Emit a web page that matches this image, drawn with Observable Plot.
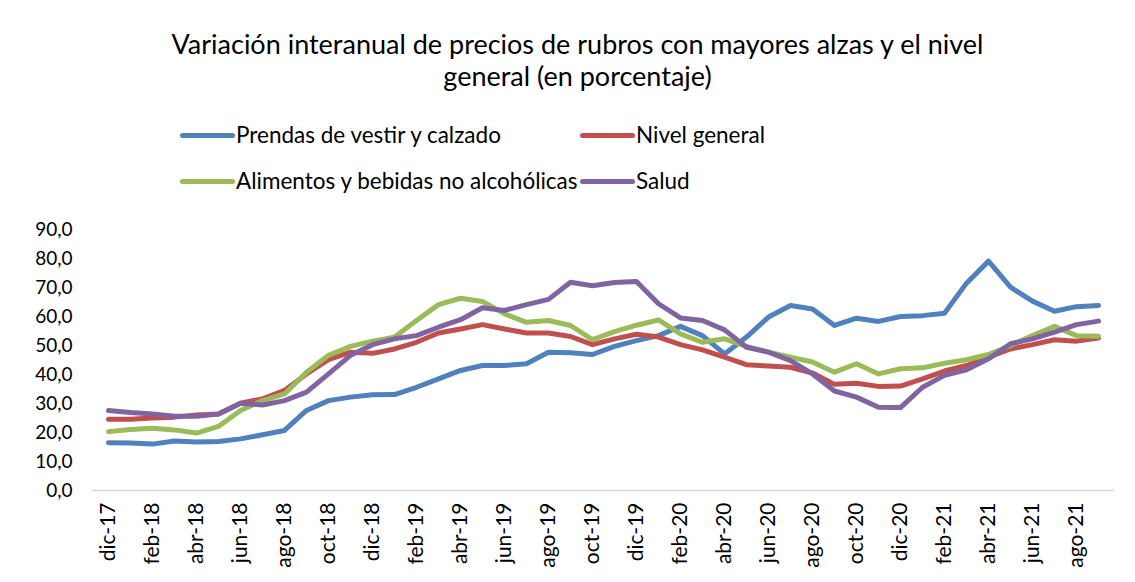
<!DOCTYPE html>
<html>
<head>
<meta charset="utf-8">
<script src="https://cdn.jsdelivr.net/npm/d3@7"></script>
<script src="https://cdn.jsdelivr.net/npm/@observablehq/plot@0.6"></script>
<style>
  html, body { margin: 0; padding: 0; background: #fff; }
  body { width: 1135px; height: 582px; position: relative; overflow: hidden; font-family: Lato, "Liberation Sans", sans-serif; color: #000; }
  #title { position: absolute; top: 28px; left: 10px; width: 1135px; text-align: center; font-size: 27px; line-height: 32px; }
  .leg { position: absolute; font-size: 22.5px; line-height: 26px; display: flex; align-items: center; white-space: nowrap; }
  .sw { display: inline-block; width: 55px; height: 5px; border-radius: 3px; margin-right: 1px; }
  #chart { position: absolute; top: 210px; left: 0; }
</style>
</head>
<body>
<div id="title">Variación interanual de precios de rubros con mayores alzas y el nivel<br>general (en porcentaje)</div>
<div id="legend"></div>
<div id="chart"></div>
<script>
const months = [
  "dic-17",
  "ene-18","feb-18","mar-18","abr-18","may-18","jun-18","jul-18","ago-18","sep-18","oct-18","nov-18","dic-18",
  "ene-19","feb-19","mar-19","abr-19","may-19","jun-19","jul-19","ago-19","sep-19","oct-19","nov-19","dic-19",
  "ene-20","feb-20","mar-20","abr-20","may-20","jun-20","jul-20","ago-20","sep-20","oct-20","nov-20","dic-20",
  "ene-21","feb-21","mar-21","abr-21","may-21","jun-21","jul-21","ago-21","sep-21"
];
const prendas = [16.5, 16.4, 16.0, 17.1, 16.7, 16.9, 17.8, 19.2, 20.7, 27.6, 31.0, 32.2, 33.0,
  33.1, 35.6, 38.5, 41.4, 43.1, 43.1, 43.7, 47.7, 47.5, 46.9, 49.7, 51.7,
  53.4, 56.6, 53.4, 47.1, 52.9, 59.8, 63.8, 62.6, 56.9, 59.4, 58.3, 60.0,
  60.3, 61.1, 71.5, 79.1, 70.1, 65.3, 61.8, 63.4, 63.8];
const nivel = [24.6, 24.6, 25.0, 25.3, 26.0, 26.4, 30.1, 31.6, 34.5, 40.2, 45.1, 47.7, 47.3,
  48.8, 51.1, 54.3, 55.7, 57.2, 55.7, 54.3, 54.3, 53.1, 50.3, 52.3, 53.9,
  52.9, 50.3, 48.5, 46.0, 43.4, 42.9, 42.5, 40.5, 36.6, 37.0, 35.9, 36.0,
  38.5, 41.2, 43.1, 46.0, 48.8, 50.3, 52.0, 51.5, 52.6];
const alimentos = [20.3, 21.0, 21.5, 20.9, 19.8, 22.1, 27.6, 31.0, 33.3, 40.8, 46.6, 49.7, 51.5,
  52.9, 58.6, 64.1, 66.3, 65.2, 60.9, 58.0, 58.6, 56.9, 52.0, 54.8, 57.0,
  58.8, 54.0, 51.1, 52.3, 49.7, 47.7, 46.0, 44.3, 40.8, 43.7, 40.2, 42.0,
  42.3, 43.9, 45.1, 46.9, 50.0, 53.4, 56.6, 53.4, 53.2];
const salud = [27.6, 26.9, 26.4, 25.6, 25.6, 26.4, 30.1, 29.5, 31.0, 33.9, 40.2, 46.6, 50.3,
  52.3, 53.4, 56.3, 58.9, 63.0, 62.1, 64.1, 65.9, 71.8, 70.6, 71.7, 72.1,
  64.4, 59.5, 58.6, 55.4, 49.4, 47.7, 44.8, 40.2, 34.3, 32.2, 28.7, 28.6,
  35.6, 39.7, 41.6, 45.4, 50.6, 52.3, 54.6, 57.2, 58.4];
const seriesNames = ["Prendas de vestir y calzado", "Nivel general", "Alimentos y bebidas no alcohólicas", "Salud"];
const seriesColors = ["#4f81bd", "#c0504d", "#9bbb59", "#8064a2"];
const yTicks = [0, 10, 20, 30, 40, 50, 60, 70, 80, 90];
const xTickLabels = months.filter((m, i) => i % 2 === 0);

const allSeries = [prendas, nivel, alimentos, salud];
const data = [];
allSeries.forEach((vals, s) => vals.forEach((v, i) => data.push({serie: seriesNames[s], mes: months[i], valor: v})));

// legend
const legendPos = [[180, 122], [580, 122], [180, 168], [580, 168]];
const legend = document.getElementById("legend");
seriesNames.forEach((n, i) => {
  const d = document.createElement("div");
  d.className = "leg";
  d.style.left = legendPos[i][0] + "px";
  d.style.top = legendPos[i][1] + "px";
  d.innerHTML = `<span class="sw" style="background:${seriesColors[i]}"></span><span>${n}</span>`;
  legend.appendChild(d);
});

const chart = Plot.plot({
  width: 1135,
  height: 372,
  marginTop: 19,
  marginBottom: 92,
  marginLeft: 92,
  marginRight: 21,
  style: { fontFamily: "Lato, 'Liberation Sans', sans-serif", color: "#000", background: "#fff" },
  x: { type: "point", domain: months, padding: 0.5 },
  y: { domain: [0, 90] },
  color: { domain: seriesNames, range: seriesColors },
  marks: [
    Plot.axisY({ ticks: yTicks, tickSize: 0, tickPadding: 20, tickFormat: d => d.toFixed(1).replace(".", ","), fontSize: 19, label: null }),
    Plot.axisX({ ticks: xTickLabels, tickSize: 0, tickPadding: 12, tickRotate: -90, fontSize: 21, label: null }),
    Plot.ruleY([0], { stroke: "#d9d9d9", strokeWidth: 1.5 }),
    Plot.line(data, { x: "mes", y: "valor", z: "serie", stroke: "serie", strokeWidth: 5, strokeLinejoin: "round", strokeLinecap: "round" })
  ]
});
document.getElementById("chart").appendChild(chart);
</script>
</body>
</html>
